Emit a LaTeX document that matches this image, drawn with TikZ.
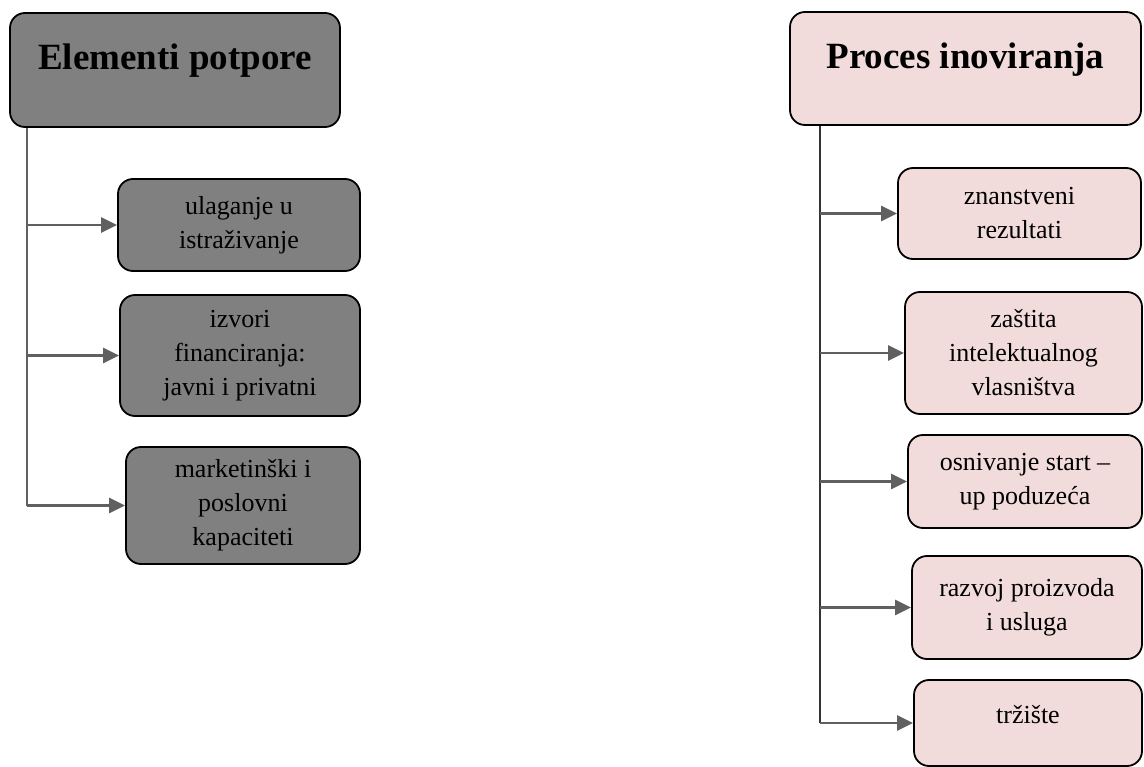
\documentclass[tikz,border=0pt]{standalone}
\usepackage{fontspec}
\setmainfont{Liberation Serif}
\usetikzlibrary{arrows.meta}
\definecolor{boxgray}{HTML}{808080}
\definecolor{boxpink}{HTML}{F2DCDB}
\definecolor{linegray}{HTML}{606060}
\begin{document}
\begin{tikzpicture}[x=1pt,y=-1pt,
  box/.style={draw=black, line width=1.8pt, rounded corners=15pt, align=center, inner sep=0pt,
    font=\fontsize{26}{34}\selectfont},
  graybox/.style={box, fill=boxgray},
  pinkbox/.style={box, fill=boxpink},
  title/.style={font=\fontsize{37}{44}\selectfont\bfseries, text height=26pt, text depth=26pt},
  conn/.style={draw=linegray, line width=2.6pt},
  arr/.style={conn, -{Triangle[length=16pt,width=15pt]}}
]
\useasboundingbox (0,0) rectangle (1144,767);
% left column
\node[graybox, title, minimum width=330pt, minimum height=114pt] (hL) at (175,70) {Elementi potpore};
\node[graybox, minimum width=242pt, minimum height=92pt] (L1) at (239,225) {ulaganje u\\istraživanje};
\node[graybox, minimum width=240pt, minimum height=121pt] (L2) at (240,355.5) {izvori\\financiranja:\\javni i privatni};
\node[graybox, minimum width=234pt, minimum height=117pt] (L3) at (243,505.5) {marketinški i\\poslovni\\kapaciteti};
\coordinate (tL) at ([xshift=18pt]hL.south west);
\draw[conn] (tL) -- (tL |- L3.west);
\draw[arr] (tL |- L1.west) -- (L1.west);
\draw[arr] (tL |- L2.west) -- (L2.west);
\draw[arr] (tL |- L3.west) -- (L3.west);
% right column
\node[pinkbox, title, minimum width=351pt, minimum height=113pt] (hR) at (965.5,68.5) {Proces inoviranja};
\node[pinkbox, minimum width=243pt, minimum height=91pt] (R1) at (1019.5,213.5) {znanstveni\\rezultati};
\node[pinkbox, minimum width=237pt, minimum height=122pt] (R2) at (1023.5,353) {zaštita\\intelektualnog\\vlasništva};
\node[pinkbox, minimum width=234pt, minimum height=93pt] (R3) at (1025,481.5) {osnivanje start –\\up poduzeća};
\node[pinkbox, minimum width=230pt, minimum height=103pt] (R4) at (1027,607.5) {razvoj proizvoda\\i usluga};
\node[pinkbox, minimum width=228pt, minimum height=86pt, text height=10pt, text depth=10pt] (R5) at (1028,723) {tržište};
\coordinate (tR) at ([xshift=31pt]hR.south west);
\draw[line width=2.2pt, draw=black!80] (tR) -- (tR |- R5.west);
\draw[arr] (tR |- R1.west) -- (R1.west);
\draw[arr] (tR |- R2.west) -- (R2.west);
\draw[arr] (tR |- R3.west) -- (R3.west);
\draw[arr] (tR |- R4.west) -- (R4.west);
\draw[arr] (tR |- R5.west) -- (R5.west);
\end{tikzpicture}
\end{document}
